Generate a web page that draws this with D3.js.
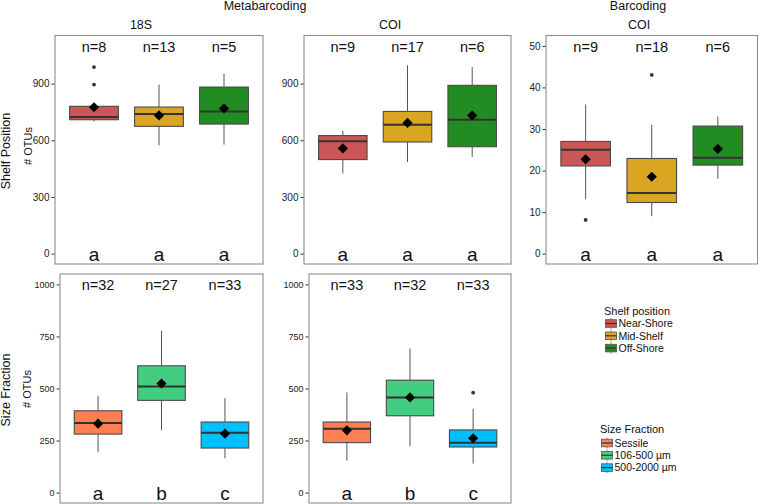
<!DOCTYPE html>
<html>
<head>
<meta charset="utf-8">
<script src="https://cdn.jsdelivr.net/npm/d3@7"></script>
<style>
  body { margin: 0; background: #fff; }
  svg { display: block; font-family: "Liberation Sans", Arial, sans-serif; }
</style>
</head>
<body>
<svg id="chart" width="760" height="504"></svg>
<script>
// categories
const shelfCats = ['Near-Shore', 'Mid-Shelf', 'Off-Shore']
const sizeCats = ['Sessile', '106-500 µm', '500-2000 µm']

// box stats per group: [lower whisker, q1, median, q3, upper whisker]
const meta18S_stats = [[700, 709, 724, 780, 780], [573, 674, 739, 776, 895], [577, 686, 753, 882, 953]]
const meta18S_means = [775, 732, 769]
const meta18S_out = [[895, 988], [], []]
const meta18S_n = [8, 13, 5]
const meta18S_letters = ['a', 'a', 'a']

const metaCOI_stats = [[424, 498, 595, 625, 651], [485, 591, 683, 753, 997], [512, 566, 709, 891, 988]]
const metaCOI_means = [557, 692, 731]
const metaCOI_out = [[], [], []]
const metaCOI_n = [9, 17, 6]
const metaCOI_letters = ['a', 'a', 'a']

const barCOI_stats = [[13.1, 21.1, 25.0, 27.0, 35.9], [9.0, 12.3, 14.6, 22.9, 31.0], [18.0, 21.3, 23.1, 30.7, 33.0]]
const barCOI_means = [22.7, 18.5, 25.2]
const barCOI_out = [[8.1], [43], []]
const barCOI_n = [9, 18, 6]
const barCOI_letters = ['a', 'a', 'a']

const size18S_stats = [[194, 281, 334, 393, 465], [299, 443, 510, 609, 777], [165, 214, 288, 339, 454]]
const size18S_means = [331, 524, 283]
const size18S_out = [[], [], []]
const size18S_n = [32, 27, 33]
const size18S_letters = ['a', 'b', 'c']

const sizeCOI_stats = [[154, 240, 307, 339, 481], [222, 369, 457, 540, 692], [139, 219, 240, 301, 403]]
const sizeCOI_means = [299, 457, 261]
const sizeCOI_out = [[], [], [480]]
const sizeCOI_n = [33, 32, 33]
const sizeCOI_letters = ['a', 'b', 'c']

// tick labels
const otuTicks = [0, 300, 600, 900]
const barTicks = [0, 10, 20, 30, 40, 50]
const sizeTicks = [0, 250, 500, 750, 1000]

const shelfColors = ['#cd5555', '#daa520', '#228b22']
const sizeColors = ['#ff7f50', '#43cd80', '#00bfff']

const svg = d3.select('#chart')

function draw_panel(p) {
    let g = svg.append('g')

    let x = d3.scalePoint()
        .domain(p.cats)
        .range([p.x0, p.x1])
        .padding(0.6)
    let y = d3.scaleLinear()
        .domain(p.domain)
        .range([p.y1, p.y0])
    let bw = x.step() * 0.75

    g.append('rect')
        .attr('x', p.x0).attr('y', p.y0)
        .attr('width', p.x1 - p.x0).attr('height', p.y1 - p.y0)
        .attr('fill', '#fff')
        .attr('stroke', '#8c8c8c')
        .attr('stroke-width', 1.1)

    let yAxis = g.append('g')
        .attr('transform', `translate(${p.x0 - 0.5},0)`)
        .call(d3.axisLeft(y).tickValues(p.ticks).tickSize(3).tickPadding(2).tickFormat(d3.format('d')))
    yAxis.select('.domain').remove()
    yAxis.selectAll('line').attr('stroke', '#333')
    yAxis.selectAll('text')
        .attr('fill', '#222')
        .style('font-size', p.tickSize + 'px')
        .style('font-family', '"Liberation Sans", Arial, sans-serif')

    p.cats.forEach((c, i) => {
        let s = p.stats[i]
        let cx = x(c)
        // whiskers
        g.append('line')
            .attr('x1', cx).attr('x2', cx)
            .attr('y1', y(s[0])).attr('y2', y(s[1]))
            .attr('stroke', '#555').attr('stroke-width', 1)
        g.append('line')
            .attr('x1', cx).attr('x2', cx)
            .attr('y1', y(s[3])).attr('y2', y(s[4]))
            .attr('stroke', '#555').attr('stroke-width', 1)
        // box
        g.append('rect')
            .attr('x', cx - bw / 2).attr('y', y(s[3]))
            .attr('width', bw).attr('height', y(s[1]) - y(s[3]))
            .attr('fill', p.colors[i])
            .attr('stroke', '#4a4a4a')
            .attr('stroke-width', 1.1)
        // median
        g.append('line')
            .attr('x1', cx - bw / 2).attr('x2', cx + bw / 2)
            .attr('y1', y(s[2])).attr('y2', y(s[2]))
            .attr('stroke', '#333').attr('stroke-width', 2)
        // outliers
        p.out[i].forEach(v => {
            g.append('circle')
                .attr('cx', cx).attr('cy', y(v)).attr('r', 1.9)
                .attr('fill', '#333')
        })
        // mean
        g.append('path')
            .attr('d', d3.symbol(d3.symbolSquare, 52)())
            .attr('transform', `translate(${cx},${y(p.means[i])}) rotate(45)`)
            .attr('fill', '#000')
        // n= label
        g.append('text')
            .attr('x', cx).attr('y', y(p.nAt) + 6)
            .attr('text-anchor', 'middle')
            .style('font-size', '14.5px')
            .attr('fill', '#111')
            .text(`n=${p.n[i]}`)
        // significance letter
        g.append('text')
            .attr('x', cx).attr('y', y(0) + 7)
            .attr('text-anchor', 'middle')
            .style('font-size', '19px')
            .attr('fill', '#111')
            .text(p.letters[i])
    })
}

draw_panel({ x0: 55, x1: 263, y0: 35.5, y1: 264, domain: [-55, 1155], ticks: otuTicks, tickSize: 10, nAt: 1100,
    cats: shelfCats, colors: shelfColors, stats: meta18S_stats, means: meta18S_means, out: meta18S_out, n: meta18S_n, letters: meta18S_letters })
draw_panel({ x0: 304, x1: 511, y0: 35.5, y1: 264, domain: [-55, 1155], ticks: otuTicks, tickSize: 10, nAt: 1100,
    cats: shelfCats, colors: shelfColors, stats: metaCOI_stats, means: metaCOI_means, out: metaCOI_out, n: metaCOI_n, letters: metaCOI_letters })
draw_panel({ x0: 546, x1: 757.5, y0: 35.5, y1: 264, domain: [-2.5, 52.5], ticks: barTicks, tickSize: 10, nAt: 50,
    cats: shelfCats, colors: shelfColors, stats: barCOI_stats, means: barCOI_means, out: barCOI_out, n: barCOI_n, letters: barCOI_letters })
draw_panel({ x0: 60, x1: 263, y0: 274, y1: 503, domain: [-50, 1050], ticks: sizeTicks, tickSize: 9, nAt: 1000,
    cats: sizeCats, colors: sizeColors, stats: size18S_stats, means: size18S_means, out: size18S_out, n: size18S_n, letters: size18S_letters })
draw_panel({ x0: 309, x1: 511, y0: 274, y1: 503, domain: [-50, 1050], ticks: sizeTicks, tickSize: 9, nAt: 1000,
    cats: sizeCats, colors: sizeColors, stats: sizeCOI_stats, means: sizeCOI_means, out: sizeCOI_out, n: sizeCOI_n, letters: sizeCOI_letters })

// headers
const headers = [
    ['Metabarcoding', 265, 10], ['Barcoding', 638, 10],
    ['18S', 141, 29], ['COI', 390, 29], ['COI', 639, 28.5]
]
headers.forEach(h => {
    svg.append('text')
        .attr('x', h[1]).attr('y', h[2])
        .attr('text-anchor', 'middle')
        .style('font-size', '12.5px')
        .attr('fill', '#111')
        .text(h[0])
})

// y titles
const yTitles = [
    ['Shelf Position', 10, 151, 12.5], ['# OTUs', 32, 146, 11],
    ['Size Fraction', 10, 390, 12.5], ['# OTUs', 31, 389, 11]
]
yTitles.forEach(t => {
    svg.append('text')
        .attr('transform', `translate(${t[1]},${t[2]}) rotate(-90)`)
        .attr('text-anchor', 'middle')
        .style('font-size', t[3] + 'px')
        .attr('fill', '#111')
        .text(t[0])
})

// legends
function draw_legend(title, cats, colors, x, yTitle, yFirst) {
    let g = svg.append('g')
    g.append('text')
        .attr('x', x).attr('y', yTitle)
        .style('font-size', '11px')
        .attr('fill', '#111')
        .text(title)
    cats.forEach((c, i) => {
        let cy = yFirst + i * 12.3
        let kx = x + 1.5
        g.append('line')
            .attr('x1', kx + 5.5).attr('x2', kx + 5.5)
            .attr('y1', cy - 5.5).attr('y2', cy + 5.5)
            .attr('stroke', '#555').attr('stroke-width', 0.8)
        g.append('rect')
            .attr('x', kx).attr('y', cy - 3.8)
            .attr('width', 11).attr('height', 7.6)
            .attr('fill', colors[i])
            .attr('stroke', '#555').attr('stroke-width', 0.8)
        g.append('line')
            .attr('x1', kx).attr('x2', kx + 11)
            .attr('y1', cy).attr('y2', cy)
            .attr('stroke', '#333').attr('stroke-width', 1.2)
        g.append('text')
            .attr('x', kx + 13).attr('y', cy + 3.8)
            .style('font-size', '10.5px')
            .attr('fill', '#111')
            .text(c)
    })
}

draw_legend('Shelf position', shelfCats, shelfColors, 604, 315, 323.5)
draw_legend('Size Fraction', sizeCats, sizeColors, 600, 433, 443)
</script>
</body>
</html>
